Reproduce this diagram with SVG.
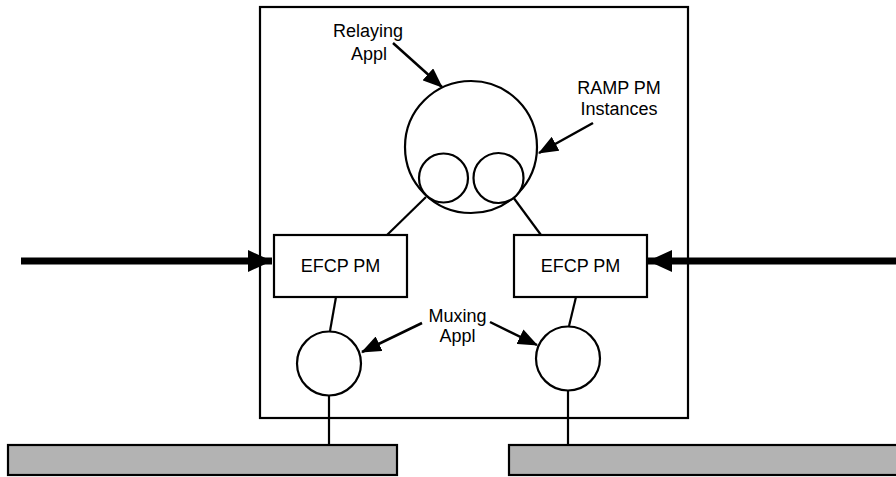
<svg xmlns="http://www.w3.org/2000/svg" width="896" height="477" viewBox="0 0 896 477">
<style>
.s{fill:none;stroke:#000;stroke-width:2.2}
.w{fill:#fff;stroke:#000;stroke-width:2.2}
.bar{fill:#b3b3b3;stroke:#000;stroke-width:2.2}
.t{font-family:"Liberation Sans",Arial,sans-serif;font-size:18px;fill:#000;text-anchor:middle}
.thin{stroke:#000;stroke-width:2.5;fill:none}
.thick{stroke:#000;stroke-width:7;fill:none}
</style>
<defs>
<marker id="ah" markerUnits="userSpaceOnUse" markerWidth="20" markerHeight="16" refX="19" refY="8" orient="auto"><path d="M0,0 L20,8 L0,16 z" fill="#000"/></marker>
<marker id="ahb" markerUnits="userSpaceOnUse" markerWidth="24" markerHeight="22" refX="24" refY="11" orient="auto"><path d="M0,0 L24,11 L0,22 z" fill="#000"/></marker>
</defs>
<rect x="0" y="0" width="896" height="477" fill="#fff"/>
<g id="ipc-box"><rect class="s" x="260" y="7" width="428" height="411"/></g>
<g id="connectors">
<line class="s" x1="426" y1="197" x2="387" y2="235"/>
<line class="s" x1="513" y1="197" x2="541" y2="235"/>
<line class="s" x1="336" y1="297" x2="330" y2="331"/>
<line class="s" x1="576" y1="297" x2="569" y2="326"/>
<line class="s" x1="329" y1="395" x2="329" y2="445"/>
<line class="s" x1="568" y1="390" x2="568" y2="445"/>
<line class="thick" x1="21" y1="261" x2="272" y2="261" marker-end="url(#ahb)"/>
<line class="thick" x1="896" y1="261" x2="648" y2="261" marker-end="url(#ahb)"/>
<line class="thin" x1="393" y1="43" x2="442" y2="87" marker-end="url(#ah)"/>
<line class="thin" x1="593" y1="123" x2="539" y2="153" marker-end="url(#ah)"/>
<line class="thin" x1="422" y1="323" x2="362" y2="352" marker-end="url(#ah)"/>
<line class="thin" x1="490" y1="322" x2="537" y2="345" marker-end="url(#ah)"/>
</g>
<g id="relaying-appl"><circle class="w" cx="471" cy="147" r="66"/></g>
<g id="ramp-pm-1"><circle class="w" cx="443.5" cy="178" r="24.5"/></g>
<g id="ramp-pm-2"><circle class="w" cx="498.5" cy="178" r="25"/></g>
<g id="efcp-left"><rect class="w" x="274" y="235" width="133" height="62"/><text class="t" x="340.5" y="272">EFCP PM</text></g>
<g id="efcp-right"><rect class="w" x="514" y="235" width="133" height="62"/><text class="t" x="580.5" y="272">EFCP PM</text></g>
<g id="mux-left"><circle class="w" cx="329" cy="363.5" r="32"/></g>
<g id="mux-right"><circle class="w" cx="568" cy="358.5" r="32"/></g>
<g id="bar-left"><rect class="bar" x="8" y="445" width="389" height="30"/></g>
<g id="bar-right"><rect class="bar" x="509" y="445" width="390" height="30"/></g>
<g id="label-relaying"><text class="t" x="368" y="37">Relaying</text><text class="t" x="369" y="60">Appl</text></g>
<g id="label-ramp"><text class="t" x="619" y="94">RAMP PM</text><text class="t" x="619" y="115">Instances</text></g>
<g id="label-muxing"><text class="t" x="457.5" y="322">Muxing</text><text class="t" x="457.5" y="342">Appl</text></g>
</svg>
